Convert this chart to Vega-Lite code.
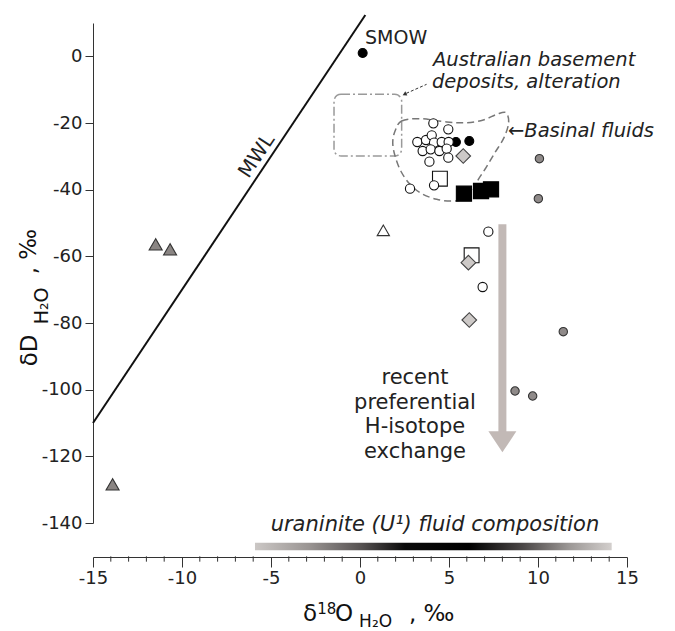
{
  "$schema": "https://vega.github.io/schema/vega-lite/v6.json",
  "width": 534,
  "height": 500,
  "autosize": {"type": "none"},
  "padding": {"left": 93, "top": 23, "right": 48, "bottom": 108},
  "background": "white",
  "config": {
    "view": {"stroke": null},
    "axis": {"grid": false, "domainColor": "#333", "tickColor": "#333", "labelColor": "#222", "labelFont": "DejaVu Sans", "labelFontSize": 18, "tickWidth": 1, "domainWidth": 1, "labelOverlap": false}
  },
  "layer": [
    {
      "data": {"values": [{"x": -15, "y": -110}, {"x": 0.3, "y": 12.4}]},
      "mark": {"type": "line", "color": "#111", "strokeWidth": 2},
      "encoding": {
        "x": {"field": "x", "type": "quantitative", "title": null,
          "scale": {"domain": [-15, 15], "nice": false, "zero": false},
          "axis": {"orient": "bottom", "offset": 34,
            "values": [-15, -10, -5, 0, 5, 10, 15],
            "labelExpr": "'' + datum.value",
            "tickSize": 10,
            "labelPadding": 2, "labelFlush": false, "labelOverlap": false}},
        "y": {"field": "y", "type": "quantitative", "title": null,
          "scale": {"domain": [-140, 10], "nice": false, "zero": false},
          "axis": {"orient": "left",
            "values": [-140,-130,-120,-110,-100,-90,-80,-70,-60,-50,-40,-30,-20,-10,0,10],
            "labelExpr": "datum.value % 20 === 0 ? '' + datum.value : ''",
            "tickSize": 8, "labelPadding": 3, "labelOverlap": false, "labelFlush": false}}
      }
    },
    {
      "data": {"values": [
        {"x": -14}, {"x": -13}, {"x": -12}, {"x": -11}, {"x": -9}, {"x": -8}, {"x": -7}, {"x": -6},
        {"x": -4}, {"x": -3}, {"x": -2}, {"x": -1}, {"x": 1}, {"x": 2}, {"x": 3}, {"x": 4},
        {"x": 6}, {"x": 7}, {"x": 8}, {"x": 9}, {"x": 11}, {"x": 12}, {"x": 13}, {"x": 14}
      ]},
      "mark": {"type": "rule", "stroke": "#333", "strokeWidth": 1},
      "encoding": {
        "x": {"field": "x", "type": "quantitative", "title": null},
        "y": {"datum": -150.0, "type": "quantitative"},
        "y2": {"datum": -151.6}
      }
    },
    {
      "data": {"values": [{"x": -1.46, "x2": 2.34, "y": -11.4, "y2": -29.9}]},
      "mark": {"type": "rect", "fillOpacity": 0, "stroke": "#9a9a9a", "strokeWidth": 1.5, "strokeDash": [9, 3, 2, 3], "cornerRadius": 7},
      "encoding": {
        "x": {"field": "x", "type": "quantitative", "title": null},
        "x2": {"field": "x2"},
        "y": {"field": "y", "type": "quantitative", "title": null},
        "y2": {"field": "y2"}
      }
    },
    {
      "data": {"values": [
        {"i": 1, "x": 1.97, "y": -22.4}, {"i": 2, "x": 2.34, "y": -19.4}, {"i": 3, "x": 3.37, "y": -18.7},
        {"i": 4, "x": 4.87, "y": -19.7}, {"i": 5, "x": 5.99, "y": -19.9}, {"i": 6, "x": 6.93, "y": -19.1},
        {"i": 7, "x": 7.68, "y": -17.4}, {"i": 8, "x": 8.2, "y": -16.9}, {"i": 9, "x": 8.35, "y": -19.9},
        {"i": 10, "x": 8.09, "y": -24.4}, {"i": 11, "x": 7.58, "y": -28.9}, {"i": 12, "x": 7.08, "y": -33.4},
        {"i": 13, "x": 6.65, "y": -36.9}, {"i": 14, "x": 6.4, "y": -39.7}, {"i": 15, "x": 5.9, "y": -42.7},
        {"i": 16, "x": 5.15, "y": -43.4}, {"i": 17, "x": 4.31, "y": -42.9}, {"i": 18, "x": 3.47, "y": -41.2},
        {"i": 19, "x": 2.81, "y": -38.4}, {"i": 20, "x": 2.29, "y": -34.4}, {"i": 21, "x": 1.97, "y": -29.9},
        {"i": 22, "x": 1.84, "y": -25.9}
      ]},
      "mark": {"type": "line", "interpolate": "cardinal-closed", "stroke": "#777", "strokeWidth": 1.5, "strokeDash": [7, 4]},
      "encoding": {
        "x": {"field": "x", "type": "quantitative", "title": null},
        "y": {"field": "y", "type": "quantitative", "title": null},
        "order": {"field": "i", "type": "quantitative"}
      }
    },
    {
      "data": {"values": [{"x": -5.9, "x2": 14.14, "y": -145.9, "y2": -148.2}]},
      "mark": {"type": "rect", "fill": {"gradient": "linear", "x1": 0, "x2": 1, "y1": 0, "y2": 0,
        "stops": [
          {"offset": 0, "color": "#cbc7c5"},
          {"offset": 0.15, "color": "#9a9593"},
          {"offset": 0.3, "color": "#555151"},
          {"offset": 0.42, "color": "#0a0a0a"},
          {"offset": 0.6, "color": "#000000"},
          {"offset": 0.75, "color": "#4a4646"},
          {"offset": 0.88, "color": "#9b9795"},
          {"offset": 1, "color": "#d3cfcd"}
        ]}},
      "encoding": {
        "x": {"field": "x", "type": "quantitative", "title": null},
        "x2": {"field": "x2"},
        "y": {"field": "y", "type": "quantitative", "title": null},
        "y2": {"field": "y2"}
      }
    },
    {
      "data": {"values": [{"x": 8.0, "y": -50.4, "y2": -112.8}]},
      "mark": {"type": "rule", "stroke": "#c2b9b6", "strokeWidth": 8},
      "encoding": {
        "x": {"field": "x", "type": "quantitative", "title": null},
        "y": {"field": "y", "type": "quantitative", "title": null},
        "y2": {"field": "y2"}
      }
    },
    {
      "data": {"values": [{"x": 8.0, "y": -115.65}]},
      "mark": {"type": "point", "shape": "M-1,-0.75L1,-0.75L0,0.75Z", "size": 784, "filled": true, "fill": "#c2b9b6", "strokeWidth": 0, "opacity": 1},
      "encoding": {
        "x": {"field": "x", "type": "quantitative", "title": null},
        "y": {"field": "y", "type": "quantitative", "title": null}
      }
    },
    {
      "data": {"values": [{"x": 3.74, "y": -8.4}, {"x": 2.6, "y": -11.1}]},
      "mark": {"type": "line", "stroke": "#333", "strokeWidth": 1, "strokeDash": [3, 2]},
      "encoding": {
        "x": {"field": "x", "type": "quantitative", "title": null},
        "y": {"field": "y", "type": "quantitative", "title": null}
      }
    },
    {
      "data": {"values": [{"x": 2.5, "y": -11.4}]},
      "mark": {"type": "point", "shape": "triangle-up", "angle": 245, "size": 22, "filled": true, "fill": "#333", "strokeWidth": 0, "opacity": 1},
      "encoding": {
        "x": {"field": "x", "type": "quantitative", "title": null},
        "y": {"field": "y", "type": "quantitative", "title": null}
      }
    },
    {
      "data": {"values": [
        {"type": "open_square", "x": 4.49, "y": -36.7},
        {"type": "open_square", "x": 6.27, "y": -59.7},
        {"type": "black_circle", "x": 5.39, "y": -25.7},
        {"type": "open_circle", "x": 4.12, "y": -20.1},
        {"type": "open_circle", "x": 4.96, "y": -21.9},
        {"type": "open_circle", "x": 3.22, "y": -25.7},
        {"type": "open_circle", "x": 3.71, "y": -25.1},
        {"type": "open_circle", "x": 4.03, "y": -23.7},
        {"type": "open_circle", "x": 4.16, "y": -25.9},
        {"type": "open_circle", "x": 4.59, "y": -25.7},
        {"type": "open_circle", "x": 4.98, "y": -25.7},
        {"type": "open_circle", "x": 3.52, "y": -28.4},
        {"type": "open_circle", "x": 3.97, "y": -27.9},
        {"type": "open_circle", "x": 4.46, "y": -28.4},
        {"type": "open_circle", "x": 4.87, "y": -27.7},
        {"type": "open_circle", "x": 4.96, "y": -30.4},
        {"type": "open_circle", "x": 3.9, "y": -31.6},
        {"type": "open_circle", "x": 4.16, "y": -38.7},
        {"type": "open_circle", "x": 2.81, "y": -39.7},
        {"type": "open_circle", "x": 7.21, "y": -52.6},
        {"type": "open_circle", "x": 6.89, "y": -69.2},
        {"type": "black_circle", "x": 6.14, "y": -25.4},
        {"type": "black_circle", "x": 0.15, "y": 1.0},
        {"type": "diamond", "x": 5.8, "y": -29.9},
        {"type": "diamond", "x": 6.09, "y": -61.9},
        {"type": "diamond", "x": 6.14, "y": -79.1},
        {"type": "black_square", "x": 5.84, "y": -41.2},
        {"type": "black_square", "x": 6.8, "y": -40.4},
        {"type": "black_square", "x": 7.36, "y": -39.9},
        {"type": "grey_circle", "x": 10.08, "y": -30.7},
        {"type": "grey_circle", "x": 10.02, "y": -42.7},
        {"type": "grey_circle", "x": 11.42, "y": -82.6},
        {"type": "grey_circle", "x": 8.71, "y": -100.4},
        {"type": "grey_circle", "x": 9.7, "y": -101.9},
        {"type": "grey_triangle", "x": -11.48, "y": -56.4},
        {"type": "grey_triangle", "x": -10.67, "y": -57.9},
        {"type": "grey_triangle", "x": -13.9, "y": -128.4},
        {"type": "open_triangle", "x": 1.31, "y": -52.2}
      ]},
      "mark": {"type": "point", "strokeWidth": 1.1, "opacity": 1, "fillOpacity": 1},
      "encoding": {
        "x": {"field": "x", "type": "quantitative", "title": null},
        "y": {"field": "y", "type": "quantitative", "title": null},
        "shape": {"field": "type", "type": "nominal", "legend": null,
          "scale": {"domain": ["black_circle", "open_circle", "grey_circle", "open_square", "black_square", "diamond", "grey_triangle", "open_triangle"],
                    "range": ["circle", "circle", "circle", "square", "square", "diamond", "triangle-up", "triangle-up"]}},
        "fill": {"field": "type", "type": "nominal", "legend": null,
          "scale": {"domain": ["black_circle", "open_circle", "grey_circle", "open_square", "black_square", "diamond", "grey_triangle", "open_triangle"],
                    "range": ["#000000", "#ffffff", "#8f8a89", "#ffffff", "#000000", "#cdc9c7", "#8a8583", "#ffffff"]}},
        "stroke": {"field": "type", "type": "nominal", "legend": null,
          "scale": {"domain": ["black_circle", "open_circle", "grey_circle", "open_square", "black_square", "diamond", "grey_triangle", "open_triangle"],
                    "range": ["#000000", "#111111", "#333333", "#111111", "#000000", "#444444", "#333333", "#333333"]}},
        "size": {"field": "type", "type": "nominal", "legend": null,
          "scale": {"type": "ordinal", "domain": ["black_circle", "open_circle", "grey_circle", "open_square", "black_square", "diamond", "grey_triangle", "open_triangle"],
                    "range": [80, 85, 70, 220, 230, 215, 170, 150]}}
      }
    },
    {
      "data": {"values": [{"x": 0.28, "y": 3.6, "t": "SMOW"}]},
      "mark": {"type": "text", "font": "DejaVu Sans", "fontSize": 19, "align": "left", "baseline": "alphabetic", "color": "#222"},
      "encoding": {
        "x": {"field": "x", "type": "quantitative", "title": null},
        "y": {"field": "y", "type": "quantitative", "title": null},
        "text": {"field": "t"}
      }
    },
    {
      "data": {"values": [
        {"x": 4.1, "y": -3.0, "t": "Australian basement"},
        {"x": 4.04, "y": -9.6, "t": "deposits, alteration"},
        {"x": 8.31, "y": -24.3, "t": "←Basinal fluids"}
      ]},
      "mark": {"type": "text", "font": "DejaVu Sans", "fontSize": 19.5, "fontStyle": "italic", "align": "left", "baseline": "alphabetic", "color": "#222"},
      "encoding": {
        "x": {"field": "x", "type": "quantitative", "title": null},
        "y": {"field": "y", "type": "quantitative", "title": null},
        "text": {"field": "t"}
      }
    },
    {
      "data": {"values": [{"x": 3.09, "y": -98.4, "t": "recent\npreferential\nH-isotope\nexchange"}]},
      "mark": {"type": "text", "font": "DejaVu Sans", "fontSize": 21, "align": "center", "baseline": "alphabetic", "lineBreak": "\n", "lineHeight": 24.5, "color": "#222"},
      "encoding": {
        "x": {"field": "x", "type": "quantitative", "title": null},
        "y": {"field": "y", "type": "quantitative", "title": null},
        "text": {"field": "t"}
      }
    },
    {
      "data": {"values": [{"x": 4.21, "y": -142.4, "t": "uraninite (U¹) fluid composition"}]},
      "mark": {"type": "text", "font": "DejaVu Sans", "fontSize": 21, "fontStyle": "italic", "align": "center", "baseline": "alphabetic", "color": "#222"},
      "encoding": {
        "x": {"field": "x", "type": "quantitative", "title": null},
        "y": {"field": "y", "type": "quantitative", "title": null},
        "text": {"field": "t"}
      }
    },
    {
      "data": {"values": [{"x": -5.8, "y": -29.9, "t": "MWL"}]},
      "mark": {"type": "text", "font": "DejaVu Sans", "fontSize": 20, "align": "center", "baseline": "middle", "angle": 303.7, "color": "#222"},
      "encoding": {
        "x": {"field": "x", "type": "quantitative", "title": null},
        "y": {"field": "y", "type": "quantitative", "title": null},
        "text": {"field": "t"}
      }
    },
    {
      "data": {"values": [{"x": -18.15, "y": -93, "t": "δD"}, {"x": -18.2, "y": -65.4, "t": ", ‰"}]},
      "mark": {"type": "text", "font": "DejaVu Sans", "fontSize": 23, "align": "left", "baseline": "alphabetic", "angle": 270, "color": "#111"},
      "encoding": {
        "x": {"field": "x", "type": "quantitative", "title": null},
        "y": {"field": "y", "type": "quantitative", "title": null},
        "text": {"field": "t"}
      }
    },
    {
      "data": {"values": [{"x": -17.53, "y": -80.4, "t": "H₂O"}]},
      "mark": {"type": "text", "font": "DejaVu Sans", "fontSize": 19, "align": "left", "baseline": "alphabetic", "angle": 270, "color": "#111"},
      "encoding": {
        "x": {"field": "x", "type": "quantitative", "title": null},
        "y": {"field": "y", "type": "quantitative", "title": null},
        "text": {"field": "t"}
      }
    },
    {
      "data": {"values": [{"x": -3.2, "y": -169.5, "t": "δ"}, {"x": -1.4, "y": -169.5, "t": "O"}, {"x": 2.75, "y": -169.5, "t": ", ‰"}]},
      "mark": {"type": "text", "font": "DejaVu Sans", "fontSize": 23, "align": "left", "baseline": "alphabetic", "color": "#111"},
      "encoding": {
        "x": {"field": "x", "type": "quantitative", "title": null},
        "y": {"field": "y", "type": "quantitative", "title": null},
        "text": {"field": "t"}
      }
    },
    {
      "data": {"values": [{"x": -2.4, "y": -167.4, "t": "18"}]},
      "mark": {"type": "text", "font": "DejaVu Sans", "fontSize": 15, "align": "left", "baseline": "alphabetic", "color": "#111"},
      "encoding": {
        "x": {"field": "x", "type": "quantitative", "title": null},
        "y": {"field": "y", "type": "quantitative", "title": null},
        "text": {"field": "t"}
      }
    },
    {
      "data": {"values": [{"x": -0.05, "y": -171.3, "t": "H₂O"}]},
      "mark": {"type": "text", "font": "DejaVu Sans", "fontSize": 17, "align": "left", "baseline": "alphabetic", "color": "#111"},
      "encoding": {
        "x": {"field": "x", "type": "quantitative", "title": null},
        "y": {"field": "y", "type": "quantitative", "title": null},
        "text": {"field": "t"}
      }
    }
  ]
}
